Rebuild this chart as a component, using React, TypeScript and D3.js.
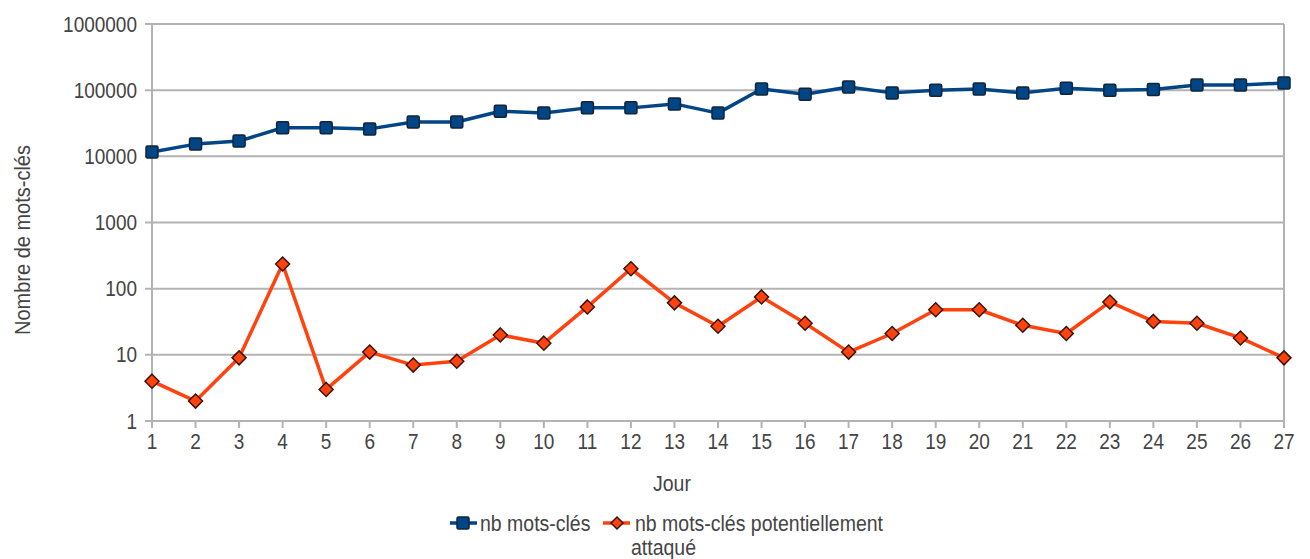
import React from "react";
import * as d3 from "d3";

const days = d3.range(1, 28);
const keywords = [11600, 15300, 17000, 27000, 27000, 26000, 33000, 33000, 48000, 45000, 54000, 54000, 62000, 45000, 104000, 87000, 112000, 91000, 100000, 104000, 91000, 107000, 100000, 102000, 120000, 120000, 128000];
const attacked = [4, 2, 9, 236, 3, 11, 7, 8, 20, 15, 53, 200, 61, 27, 75, 30, 11, 21, 48, 48, 28, 21, 63, 32, 30, 18, 9];
const yTicks = [1, 10, 100, 1000, 10000, 100000, 1000000];
const seriesNames = ["nb mots-clés", "nb mots-clés potentiellement", "attaqué"];
const yTitle = "Nombre de mots-clés";
const xTitle = "Jour";

const W = 1310, H = 559;
const L = 152, R = 1284, T = 24, B = 421;
const BLUE = "#004586", ORANGE = "#ff420e", GRID = "#b3b3b3", TXT = "#444";
const FONT = "'Liberation Sans', Arial, sans-serif";

function T2({ x, y, anchor = "start", size = 19, rot = 0, children }: any) {
  return (
    <text transform={`translate(${x},${y}) rotate(${rot}) scale(1,1.12)`} dy="0.36em" textAnchor={anchor} fontSize={size} fill={TXT}>
      {children}
    </text>
  );
}

export default function App() {
  const x = d3.scaleLinear().domain([1, 27]).range([L, R]);
  const y = d3.scaleLog().domain([1, 1000000]).range([B, T]);
  const line = d3.line<number>().x((_, i) => x(days[i])).y((v) => y(v));
  const sq = 12, dm = 7;
  const diamond = (cx: number, cy: number, r: number) => `M${cx},${cy - r}L${cx + r},${cy}L${cx},${cy + r}L${cx - r},${cy}Z`;
  return (
    <svg width={W} height={H} style={{ position: "absolute", left: 0, top: 0, background: "#fff" }} fontFamily={FONT}>
      {yTicks.map((t) => (
        <g key={t}>
          <line x1={L - 7} x2={R} y1={y(t)} y2={y(t)} stroke={GRID} strokeWidth={2} />
          <T2 x={L - 15} y={y(t)} anchor="end" size={19}>{t}</T2>
        </g>
      ))}
      <line x1={L} x2={L} y1={T} y2={B} stroke={GRID} strokeWidth={2} />
      <line x1={R} x2={R} y1={T} y2={B} stroke={GRID} strokeWidth={2} />
      {days.map((d) => (
        <g key={d}>
          <line x1={x(d)} x2={x(d)} y1={B} y2={B + 7} stroke={GRID} strokeWidth={2} />
          <T2 x={x(d)} y={B + 20} anchor="middle" size={19}>{d}</T2>
        </g>
      ))}
      <T2 x={672} y={483} anchor="middle" size={19.5}>{xTitle}</T2>
      <T2 x={22} y={240} anchor="middle" size={20} rot={-90}>{yTitle}</T2>

      <path d={line(keywords) || ""} fill="none" stroke={BLUE} strokeWidth={3.5} strokeLinejoin="round" />
      {keywords.map((v, i) => (
        <rect key={i} x={x(days[i]) - sq / 2} y={y(v) - sq / 2} width={sq} height={sq} rx={1.5} fill={BLUE} stroke="#10243a" strokeWidth={1.5} />
      ))}
      <path d={line(attacked) || ""} fill="none" stroke={ORANGE} strokeWidth={3.5} strokeLinejoin="round" />
      {attacked.map((v, i) => (
        <path key={i} d={diamond(x(days[i]), y(v), dm)} fill={ORANGE} stroke="#3b1408" strokeWidth={1.5} />
      ))}

      <g>
        <line x1={450} x2={477} y1={523} y2={523} stroke={BLUE} strokeWidth={3.5} />
        <rect x={457} y={517} width={12} height={12} rx={1.5} fill={BLUE} stroke="#10243a" strokeWidth={1.5} />
        <T2 x={480} y={523} size={19.5}>{seriesNames[0]}</T2>
        <line x1={603} x2={630} y1={523} y2={523} stroke={ORANGE} strokeWidth={3.5} />
        <path d={diamond(617, 523, 6)} fill={ORANGE} stroke="#3b1408" strokeWidth={1.5} />
        <T2 x={635} y={523} size={19.5}>{seriesNames[1]}</T2>
        <T2 x={631} y={547} size={19.5}>{seriesNames[2]}</T2>
      </g>
    </svg>
  );
}
